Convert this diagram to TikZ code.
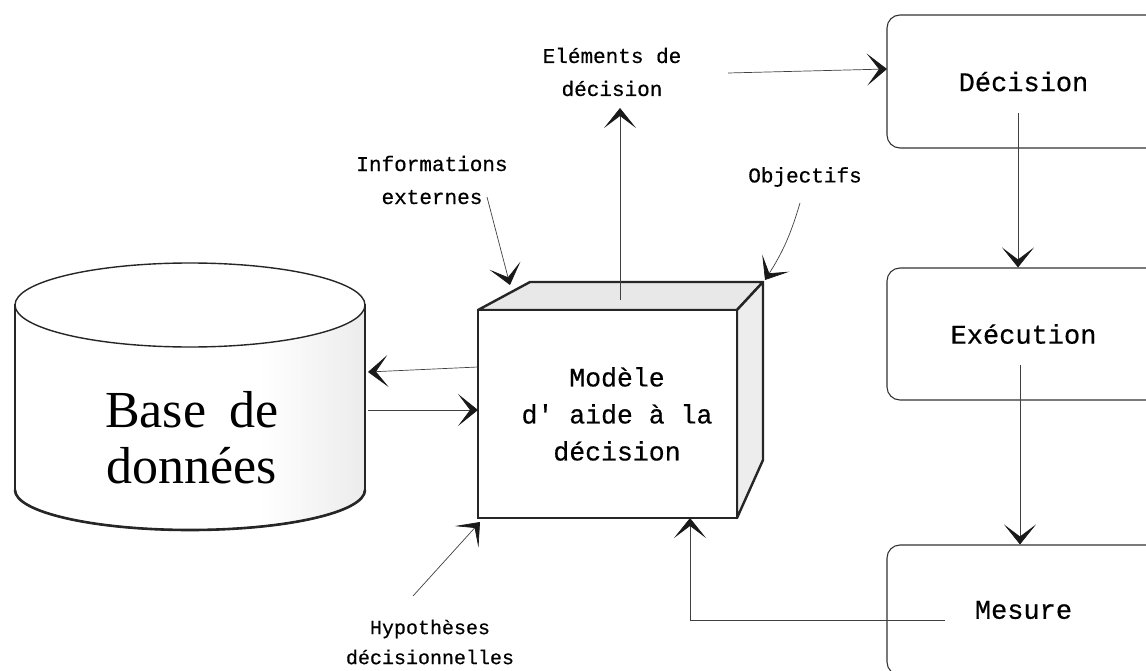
\documentclass[tikz,border=0pt]{standalone}
\usepackage{fontspec}
\setmainfont{Liberation Serif}
\newfontfamily\monof[FakeBold=0.5]{Liberation Mono}
\usetikzlibrary{arrows.meta,calc}
\pgfdeclarehorizontalshading{cylshade}{100bp}{color(0bp)=(white);color(60bp)=(white);color(100bp)=(black!20)}
\tikzset{
  conn/.style={draw=black!75, line width=0.7pt, -{Stealth[length=20pt,width=32pt,inset=12pt,fill=black!90,color=black!90]}},
  lbl/.style={font=\monof\fontsize{21}{33}\selectfont, align=center, inner sep=0pt},
  lblb/.style={font=\monof\fontsize{20}{30}\selectfont, align=center, inner sep=0pt},
  boxtxt/.style={font=\monof\fontsize{26.5}{37}\selectfont, align=center, inner sep=0pt},
  rbox/.style={draw=black!80, line width=1.1pt, rounded corners=13pt, minimum width=273pt, font=\monof\fontsize{27}{37}\selectfont},
  edge3d/.style={draw=black!85, line width=2.4pt, line join=round}
}
\begin{document}
\begin{tikzpicture}[x=1pt,y=-1pt]
\useasboundingbox (0,0) rectangle (1146,671);
\clip (0,0) rectangle (1146,671);

% cylinder
\path[shading=cylshade, draw=black!85, line width=1.6pt]
  (15,305) -- (15,490) arc[start angle=180,end angle=0,x radius=175,y radius=40] -- (365,305) -- cycle;
\draw[black!85, line width=2.6pt] (15,490) arc[start angle=180,end angle=0,x radius=175,y radius=40];
\draw[black!85, line width=1.4pt, fill=white] (190,305) ellipse[x radius=175,y radius=42];
\node[font=\fontsize{52}{56}\selectfont, align=center, inner sep=0pt] (db) at (192,438) {Base\hspace{0.45em}de\\données};
\coordinate (dbr1) at (368,372);
\coordinate (dbr2) at (368,410);

% cube
\path[fill=black!9, edge3d] (478,310) -- (530,282) -- (763,282) -- (737,310) -- cycle;
\path[fill=black!7, edge3d] (737,310) -- (763,282) -- (763,460) -- (737,518) -- cycle;
\node[draw=black!85, line width=2.4pt, fill=white, minimum width=259pt, minimum height=208pt, inner sep=0pt] (cube) at (607.5,414) {};
\node[boxtxt] (model) at (617,414) {Modèle\\d' aide à la\\décision};
\coordinate (cubetop) at (620,300);
\coordinate (cubel1) at (478,367);
\coordinate (cubel2) at (478,410);
\coordinate (cubeb) at (690,518);
\coordinate (cubebl) at (480,522);
\coordinate (cubetl) at (510,285);
\coordinate (cubetr) at (765,280);

% right boxes
\node[rbox, minimum height=133pt] (dec) at (1023.5,81.5) {Décision};
\node[rbox, minimum height=132pt] (exe) at (1023.5,334) {Exécution};
\node[rbox, minimum height=130pt] (mes) at (1023.5,610) {Mesure};
\coordinate (decs) at (1018,113);
\coordinate (exes) at (1020,365);
\coordinate (mess) at (945,620);
\coordinate (decw) at (887,69);

% labels
\node[lbl] (elem) at (612,72) {Eléments de\\décision};
\node[lbl] (info) at (432,180) {Informations\\externes};
\node[lbl] (obj) at (805,177) {Objectifs};
\node[lblb] (hyp) at (430,642) {Hypothèses\\décisionnelles};
\coordinate (elemtip) at (620,108);
\coordinate (elemr) at (728,73);
\coordinate (infob) at (487,197);
\coordinate (objb) at (800,203);
\coordinate (hypt) at (413,596);

% connectors
\draw[conn] (cubetop) -- (elemtip);
\draw[conn] (elemr) -- (decw);
\draw[conn] (infob) -- (cubetl);
\draw[conn] (objb) to[bend left=8] (cubetr);
\draw[conn] (hypt) -- (cubebl);
\draw[conn] (cubel1) -- (dbr1);
\draw[conn] (dbr2) -- (cubel2);
\draw[conn] (decs) -- (decs |- exe.north);
\draw[conn] (exes) -- (exes |- mes.north);
\draw[conn] (mess) -| (cubeb);
\end{tikzpicture}
\end{document}
